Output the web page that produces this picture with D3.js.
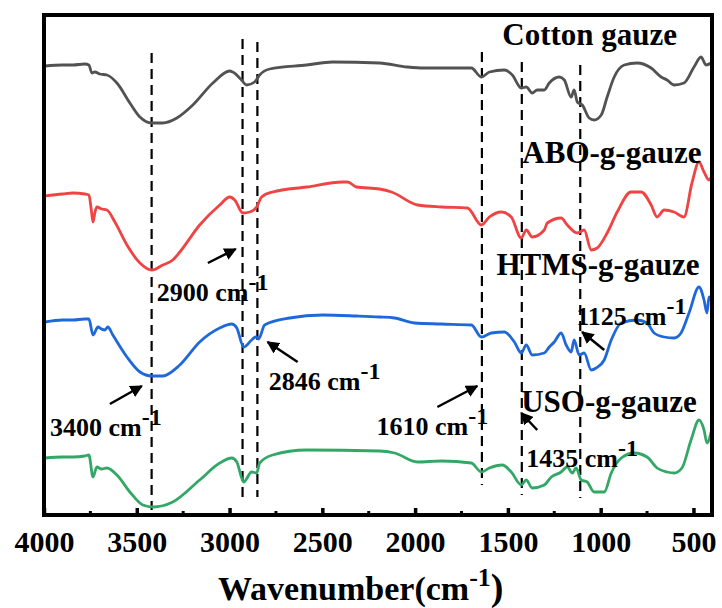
<!DOCTYPE html>
<html lang="en">
<head>
<meta charset="UTF-8">
<title>FTIR spectra</title>
<script src="https://cdnjs.cloudflare.com/ajax/libs/d3/7.8.5/d3.min.js"></script>
<style>
  body { margin: 0; background: #fff; }
  text { font-family: "Liberation Serif", "Times New Roman", serif; font-weight: bold; fill: #000; }
</style>
</head>
<body>
<div id="container"></div>
<script>
// spectra: wavenumber (cm-1) and transmittance (a.u., stacked)
const cottonWn = [3995,3900,3844,3780,3758,3742,3726,3700,3661,3607,3537,3483,3419,3360,3284,3198,3090,2999,2983,2940,2908,2865,2838,2784,2585,2445,2192,2041,1950,1697,1643,1600,1519,1476,1428,1401,1369,1342,1304,1277,1223,1196,1159,1143,1126,1099,1062,1035,997,965,927,873,804,728,674,642,604,551,497,459,432,405];
const cottonT  = [449,450,450,451,450,442,443,441,440,432,412,398,392,392,397,410,432,444,443,436,430,433,440,446,450,453,452,448,447,447,438,443,445,440,427,428,422,425,425,432,438,435,418,425,413,410,397,395,400,418,438,450,452,447,438,435,430,432,448,458,450,452];

const aboWn = [3995,3900,3844,3780,3758,3745,3736,3725,3715,3690,3661,3618,3553,3483,3419,3360,3306,3268,3161,3053,2999,2972,2929,2891,2854,2827,2768,2585,2391,2364,2316,2192,2127,1987,1858,1718,1643,1600,1535,1482,1428,1401,1369,1304,1288,1213,1180,1126,1089,1051,1019,965,911,836,782,728,696,658,604,551,508,470,443,416,400];
const aboT  = [319,321,322,321,320,305,293,303,308,306,305,293,270,252,245,250,255,263,290,310,318,315,302,303,308,318,323,328,333,333,328,326,323,310,308,307,290,298,303,298,277,285,278,285,292,297,290,282,285,265,267,282,303,323,323,310,298,305,303,298,332,353,343,335,340];

const htmsWn = [3995,3900,3844,3780,3758,3736,3709,3690,3672,3656,3629,3553,3483,3419,3360,3268,3161,3053,2988,2961,2924,2881,2859,2843,2811,2676,2499,2316,2192,2111,2004,1858,1697,1643,1589,1519,1465,1428,1401,1369,1304,1277,1250,1213,1186,1159,1143,1116,1089,1051,1024,981,943,889,804,750,712,658,604,567,524,470,443,427,416,400];
const htmsT  = [193,195,195,196,196,180,188,186,185,188,180,158,143,139,139,150,173,187,191,187,168,175,178,176,190,197,200,199,198,197,192,191,190,178,182,183,173,162,170,160,162,168,173,182,170,163,175,160,162,145,147,155,175,192,195,192,182,178,177,182,202,228,215,202,218,213];

const usoWn = [3995,3900,3844,3780,3758,3736,3715,3690,3661,3607,3537,3467,3413,3306,3161,3053,2988,2961,2924,2881,2854,2838,2768,2585,2192,2111,1987,1858,1697,1643,1600,1530,1482,1428,1401,1369,1304,1266,1213,1180,1153,1132,1105,1073,1035,981,943,889,820,750,696,642,604,562,513,470,443,427,405];
const usoT  = [57,58,58,59,60,38,48,46,47,40,23,10,8,13,35,52,57,53,33,43,42,52,60,65,64,62,53,54,52,43,47,50,43,30,35,27,30,38,43,48,42,47,35,33,23,23,42,57,62,58,47,43,42,47,75,95,85,72,83];

const seriesNames  = ["Cotton gauze", "ABO-g-gauze", "HTMS-g-gauze", "USO-g-gauze"];
const seriesColors = ["#525252", "#f04343", "#1f68dc", "#33a866"];

// marked bands: where the dashed line sits, and its label
const bandWn     = [3420, 2930, 2850, 1640, 1425, 1110];
const bandLabels = ["3400", "2900", "2846", "1610", "1435", "1125"];

const xTicks = [4000, 3500, 3000, 2500, 2000, 1500, 1000, 500];

const W = 722, H = 608;
const svg = d3.select('#container').append('svg')
    .attr('width', W).attr('height', H)
    .style('background-color', '#fff');

const x = d3.scaleLinear().domain([4000, 400]).range([44, 712]);
const y = d3.scaleLinear().domain([0, 500]).range([515, 15]);

svg.append('defs').append('marker')
    .attr('id', 'arrow')
    .attr('viewBox', '0 0 10 10')
    .attr('refX', 9).attr('refY', 5)
    .attr('markerWidth', 5).attr('markerHeight', 5)
    .attr('orient', 'auto')
  .append('path')
    .attr('d', 'M0,0 L10,5 L0,10 z')
    .attr('fill', '#000');

// dashed guide lines: [top, bottom] in transmittance units
const bandSpan = [[462, 5], [476, 18], [473, 18], [463, 30], [453, 20], [450, 17]];
svg.selectAll('line.band')
    .data(bandWn)
    .enter().append('line')
    .attr('class', 'band')
    .attr('x1', d => x(d)).attr('x2', d => x(d))
    .attr('y1', (d, i) => y(bandSpan[i][0]))
    .attr('y2', (d, i) => y(bandSpan[i][1]))
    .attr('stroke', '#000')
    .attr('stroke-width', 2.2)
    .attr('stroke-dasharray', '10,6');

// spectra
const allWn = [cottonWn, aboWn, htmsWn, usoWn];
const allT = [cottonT, aboT, htmsT, usoT];
const line = d3.line()
    .x(d => x(d[0]))
    .y(d => y(d[1]))
    .curve(d3.curveMonotoneX);

allWn.forEach((wn, i) => {
  svg.append('path')
    .datum(wn.map((w, j) => [w, allT[i][j]]))
    .attr('d', line)
    .attr('fill', 'none')
    .attr('stroke', seriesColors[i])
    .attr('stroke-width', 2.8)
    .attr('stroke-linejoin', 'round')
    .attr('stroke-linecap', 'round');
});

// series labels
const namePos = [[1530, 470], [1422, 352], [1562, 240], [1428, 103]];
seriesNames.forEach((n, i) => {
  svg.append('text')
    .attr('x', x(namePos[i][0])).attr('y', y(namePos[i][1]))
    .style('font-size', '31px')
    .text(n);
});

// peak annotations: label start, arrow tail and head
const labelPos = [[3968, 79], [3392, 214], [2789, 125], [2208, 80], [1401, 48], [1132, 190]];
const arrows = [
  [3645, 111, 3473, 129],
  [3117, 252, 2967, 266],
  [2633, 153, 2795, 173],
  [1880, 108, 1665, 129],
  [1342, 85, 1428, 102],
  [981, 165, 1100, 183]
];
bandLabels.forEach((lab, i) => {
  const t = svg.append('text')
    .attr('x', x(labelPos[i][0])).attr('y', y(labelPos[i][1]))
    .style('font-size', '26px');
  t.append('tspan').text(lab + ' cm');
  t.append('tspan').attr('dy', -11).style('font-size', '24px').text('-1');

  const a = arrows[i];
  svg.append('line')
    .attr('x1', x(a[0])).attr('y1', y(a[1]))
    .attr('x2', x(a[2])).attr('y2', y(a[3]))
    .attr('stroke', '#000')
    .attr('stroke-width', 2.5)
    .attr('marker-end', 'url(#arrow)');
});

// frame
svg.append('rect')
    .attr('x', x(4000)).attr('y', y(500))
    .attr('width', x(400) - x(4000)).attr('height', y(0) - y(500))
    .attr('fill', 'none')
    .attr('stroke', '#000')
    .attr('stroke-width', 4);

// bottom axis, ticks pointing inward
const axis = svg.append('g')
    .attr('transform', 'translate(0,' + y(0) + ')')
    .call(d3.axisBottom(x).tickValues(xTicks).tickFormat(d3.format('d'))
      .tickSizeInner(-7).tickSizeOuter(0).tickPadding(16));
axis.select('.domain').remove();
axis.selectAll('.tick line').attr('stroke', '#000').attr('stroke-width', 3.5);
axis.selectAll('.tick text')
    .attr('fill', '#000')
    .attr('dy', '0.71em')
    .style('font-family', '"Liberation Serif", serif')
    .style('font-weight', 'bold')
    .style('font-size', '30px');

const minor = d3.range(3750, 400, -500);
svg.selectAll('line.minor')
    .data(minor)
    .enter().append('line')
    .attr('class', 'minor')
    .attr('x1', d => x(d)).attr('x2', d => x(d))
    .attr('y1', y(0)).attr('y2', y(0) - 4)
    .attr('stroke', '#000')
    .attr('stroke-width', 3);

// axis title
const title = svg.append('text')
    .attr('x', 218).attr('y', 600)
    .style('font-size', '34px');
title.append('tspan').text('Wavenumber(cm');
title.append('tspan').attr('dy', -14).style('font-size', '26px').text('-1');
title.append('tspan').attr('dy', 14).style('font-size', '38px').text(')');
</script>
</body>
</html>
